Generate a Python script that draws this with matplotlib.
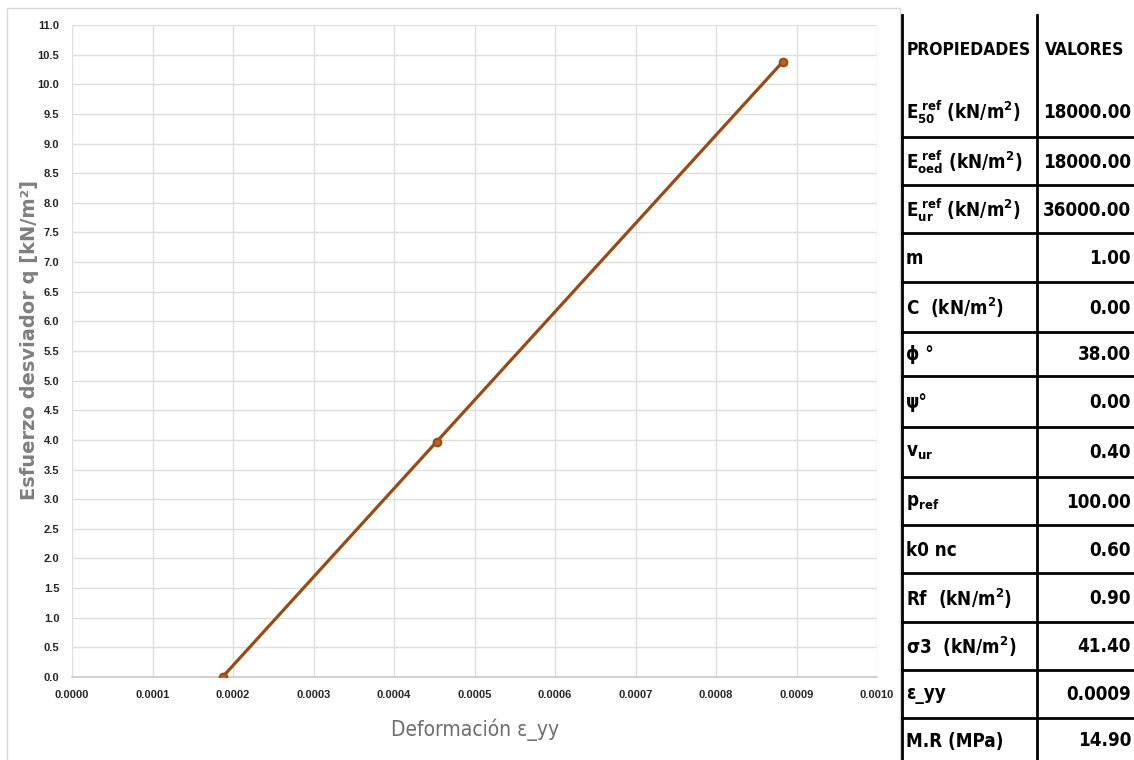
import numpy as np
from matplotlib import pyplot as plt
from matplotlib import font_manager

# use a condensed face for the table if one is installed
cond = font_manager.FontProperties(family='DejaVu Sans', stretch='condensed',
                                   weight='bold')
has_cond = 'Condensed' in font_manager.findfont(cond, fallback_to_default=True)
tab_family = 'DejaVu Sans' if has_cond else 'Liberation Sans'
tab_stretch = 'condensed' if has_cond else 'normal'

plt.rcParams['font.family'] = ['Liberation Sans', 'DejaVu Sans']
plt.rcParams['mathtext.fontset'] = 'custom'
plt.rcParams['mathtext.rm'] = f'{tab_family}:stretch={tab_stretch}'
plt.rcParams['mathtext.it'] = f'{tab_family}:stretch={tab_stretch}'
plt.rcParams['mathtext.bf'] = f'{tab_family}:weight=bold:stretch={tab_stretch}'
plt.rcParams['mathtext.default'] = 'bf'

# --- data ---
strain = [0.000187, 0.000453, 0.000883]
q_dev = [0.0, 3.97, 10.38]

x_ticks = [0.0000, 0.0001, 0.0002, 0.0003, 0.0004, 0.0005,
           0.0006, 0.0007, 0.0008, 0.0009, 0.0010]
y_ticks = [0.0, 0.5, 1.0, 1.5, 2.0, 2.5, 3.0, 3.5, 4.0, 4.5, 5.0, 5.5,
           6.0, 6.5, 7.0, 7.5, 8.0, 8.5, 9.0, 9.5, 10.0, 10.5, 11.0]

prop_labels = [r"E$_{50}^{\ ref}$ (kN/m$^{2}$)",
               r"E$_{oed}^{\ ref}$ (kN/m$^{2}$)",
               r"E$_{ur}^{\ ref}$ (kN/m$^{2}$)",
               "m",
               r"C  (kN/m$^{2}$)",
               "ϕ °",
               "ψ°",
               r"v$_{ur}$",
               r"p$_{ref}$",
               "k0 nc",
               r"Rf  (kN/m$^{2}$)",
               r"σ3  (kN/m$^{2}$)",
               "ε_yy",
               "M.R (MPa)"]
prop_values = ["18000.00", "18000.00", "36000.00", "1.00", "0.00", "38.00",
               "0.00", "0.40", "100.00", "0.60", "0.90", "41.40",
               "0.0009", "14.90"]

line_col = '#9a4a12'
W, H = 1134, 760

fig = plt.figure(figsize=(W / 100, H / 100), dpi=100)

# --- chart ---
ax = fig.add_axes([72 / W, 1 - 677 / H, (877 - 72) / W, (677 - 25) / H])
ax.plot(strain, q_dev, color=line_col, lw=2.3, marker='o', ms=5.5,
        mfc='#b8622a', mec=line_col, mew=1.5, zorder=3)
ax.set_xlim(0, 0.001)
ax.set_ylim(0, 11)
ax.set_xticks(x_ticks)
ax.set_yticks(y_ticks)
ax.set_xticklabels([f'{v:.4f}' for v in x_ticks])
ax.set_yticklabels([f'{v:.1f}' for v in y_ticks])
ax.tick_params(length=0, labelsize=8, pad=9)
for lab in ax.get_xticklabels() + ax.get_yticklabels():
    lab.set_fontweight('bold')
    lab.set_color('#262626')
ax.grid(color='#dedede', lw=1)
ax.set_axisbelow(True)
for s in ['top', 'right', 'left']:
    ax.spines[s].set_visible(False)
ax.spines['bottom'].set_color('#c8c8c8')
ax.spines['bottom'].set_linewidth(1.2)

fig.text(30 / W, 1 - 340 / H, 'Esfuerzo desviador q [kN/m²]', rotation=90,
         ha='center', va='center', fontsize=14, fontweight='bold',
         color='#7f7f7f', family='DejaVu Sans')
fig.text(475 / W, 1 - 730 / H, 'Deformación ε_yy', ha='center', va='center',
         fontsize=15, color='#6e6e6e', family=tab_family,
         fontstretch=tab_stretch)

# --- overlay in pixel coords: chart frame and table ---
ov = fig.add_axes([0, 0, 1, 1])
ov.set_xlim(0, W)
ov.set_ylim(H, 0)
ov.axis('off')

# chart frame
ov.plot([7, 7, 900, 900], [H, 8, 8, H], color='#d9d9d9', lw=1)

# table
x_left, x_mid, x_right = 902, 1037, W
row_lines = [137, 185, 233, 282, 332, 376, 427, 477, 525, 573, 622, 670, 718]
row_edges = [85] + row_lines + [762]

ov.plot([x_left, x_left], [15, H], color='black', lw=2)
ov.plot([x_mid, x_mid], [15, H], color='black', lw=2)
for yl in row_lines:
    ov.plot([x_left, x_right], [yl, yl], color='black', lw=2)

txt = dict(va='center', fontweight='bold', color='black',
           family=tab_family, fontstretch=tab_stretch)
ov.text(969, 50, 'PROPIEDADES', ha='center', fontsize=12.5, **txt)
ov.text(1085, 50, 'VALORES', ha='center', fontsize=12.5, **txt)
for i, (lab, val) in enumerate(zip(prop_labels, prop_values)):
    yc = (row_edges[i] + row_edges[i + 1]) / 2 + 1
    ov.text(906, yc, lab, ha='left', fontsize=13.5, **txt)
    ov.text(1131, yc, val, ha='right', fontsize=13.5, **txt)

fig.savefig('out.png', dpi=100)
